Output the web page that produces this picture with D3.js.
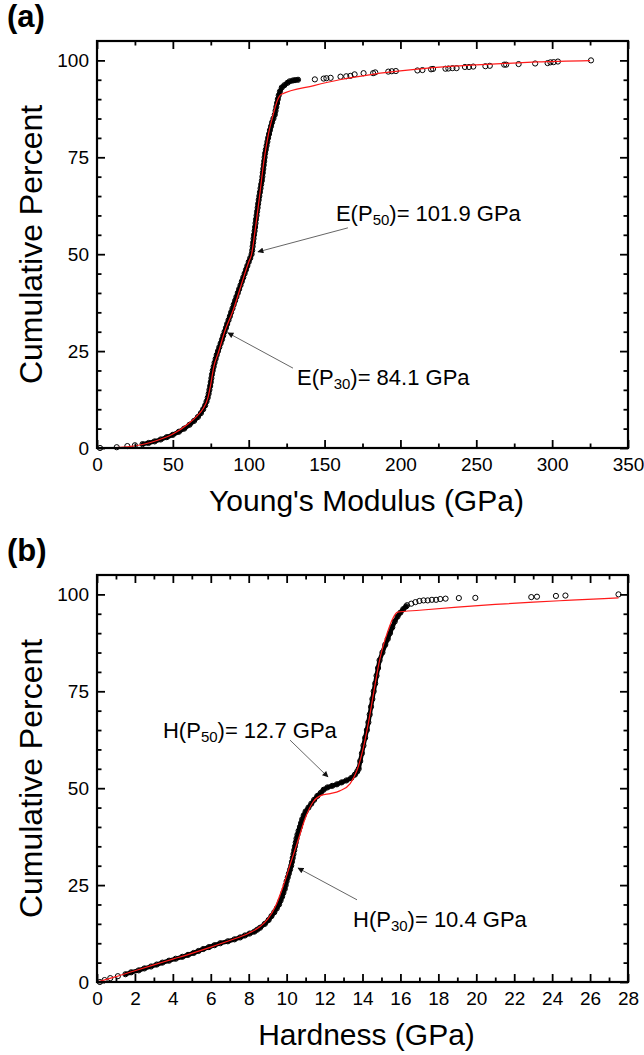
<!DOCTYPE html>
<html><head><meta charset="utf-8">
<script src="https://cdn.jsdelivr.net/npm/d3@7"></script>
<style>html,body{margin:0;padding:0;background:#fff;} svg{display:block;font-family:"Liberation Sans",Arial,sans-serif;}</style>
</head><body><svg id="chart" width="644" height="1055"></svg>
<script>
// ---------- Panel (a): Young's modulus ----------
const modulusLowX   = [2, 13, 20, 25];
const modulusLowPct = [0, 0.2, 0.5, 0.7];
const modulusCoreX = [30, 34, 38, 42, 46, 50, 54, 57.5, 61, 64, 66.5, 68.5, 70,
  71.3, 72.2, 73, 73.6, 74.1, 74.6, 75, 75.4, 75.8, 76.3, 76.9, 77.5, 78.2, 78.9,
  79.75, 80.6, 81.5, 82.4, 83.2, 84.1, 85.0, 85.8, 86.7, 87.6, 88.4, 89.3, 90.1, 91.0,
  91.9, 92.8, 93.7, 94.6, 95.5, 96.4, 97.3, 98.2, 99.1, 100.0, 101.0, 101.9,
  102.3, 102.6, 102.9, 103.2, 103.5, 103.9, 104.2, 104.5, 104.8, 105.2, 105.5, 105.9,
  106.2, 106.6, 107, 107.4, 107.8, 108.2, 108.7, 109, 109.3, 109.6, 109.9, 110.2,
  110.5, 110.8, 111.3, 111.8, 112.3, 112.8, 113.4, 114, 114.7, 115.4, 116.3, 117.2,
  117.7, 118.2, 118.7, 119.2, 119.8, 120.6, 121.8, 123.5, 125.5, 127, 129, 130.5, 132.5];
const modulusCorePct = [1, 1.3, 1.7, 2.2, 2.8, 3.4, 4.2, 5, 6, 7, 8, 9, 10,
  11, 12, 13, 14, 15, 16, 17, 18, 19, 20, 21, 22, 23, 24,
  25, 26, 27, 28, 29, 30, 31, 32, 33, 34, 35, 36, 37, 38,
  39, 40, 41, 42, 43, 44, 45, 46, 47, 48, 49, 50,
  51, 52, 53, 54, 55, 56, 57, 58, 59, 60, 61, 62,
  63, 64, 65, 66, 67, 68, 69, 70, 71, 72, 73, 74,
  75, 76, 77, 78, 79, 80, 81, 82, 83, 84, 85, 86,
  87, 88, 89, 90, 91, 92, 93, 93.6, 94.2, 94.6, 94.8, 94.9, 95.0];
const modulusTailX = [143.6, 149.4, 151.2, 154, 160.5, 164.3, 167, 169.8, 175.7, 182, 183.4,
  192, 194.3, 197, 211.2, 214.5, 220.2, 221.5, 229.7, 231.6, 234.3, 237, 242.5, 245.2, 248,
  256, 258.9, 268.4, 269.7, 277.9, 288.8, 297, 298.9, 301, 303.8, 325.6];
const modulusTailPct = [95.1, 95.3, 95.4, 95.5, 95.8, 95.9, 96, 96.4, 96.7, 96.7, 96.9,
  97.1, 97.2, 97.25, 97.4, 97.5, 97.7, 97.8, 97.85, 97.9, 98, 98, 98.3, 98.3, 98.4,
  98.5, 98.6, 98.9, 98.9, 99.05, 99.2, 99.3, 99.5, 99.55, 99.7, 100];
const modulusFitX   = [0, 10, 20, 30, 40, 50, 60, 66, 70, 73, 75, 77, 80, 84.1, 90, 95, 100, 101.9,
  104, 107, 110, 113, 116, 119, 121.3, 143, 160, 181.5, 208, 235, 263, 290, 325];
const modulusFitPct = [0, 0.05, 0.3, 0.9, 2.0, 3.6, 6.2, 8.3, 10.2, 12.8, 16.5, 21, 24.6, 30, 35.8, 42, 48, 50,
  55.5, 64.5, 74, 81, 85.8, 89.8, 91.2, 93.5, 95.0, 96.4, 97.6, 98.5, 99.1, 99.6, 99.95];
const modulusTicks = [0, 50, 100, 150, 200, 250, 300, 350];
const modulusMinorTicks = [25, 75, 125, 175, 225, 275, 325];

// ---------- Panel (b): Hardness ----------
const hardnessLowX   = [0.15, 0.4, 0.7, 1.1];
const hardnessLowPct = [0, 0.5, 1, 1.5];
const hardnessCoreX = [1.5, 1.8, 2.2, 2.5, 2.85, 3.15, 3.45, 3.8, 4.15, 4.5, 4.8, 5.1, 5.35, 5.6,
  5.9, 6.2, 6.5, 6.9, 7.25, 7.55, 7.8, 8.05, 8.3, 8.45, 8.6, 8.85, 9.05, 9.2, 9.35, 9.48, 9.6,
  9.68, 9.76, 9.83, 9.9, 9.95, 10.0, 10.06, 10.12, 10.18, 10.24, 10.28, 10.32, 10.36, 10.4,
  10.44, 10.48, 10.52, 10.57, 10.63, 10.7, 10.76, 10.82, 10.9, 11.0, 11.15, 11.3, 11.45, 11.62,
  11.8, 11.95, 12.15, 12.4, 12.65, 12.9, 13.15, 13.4, 13.6, 13.72, 13.8, 13.88, 13.97, 14.05,
  14.14, 14.23, 14.31, 14.38, 14.45, 14.52, 14.59, 14.67, 14.74, 14.82, 14.9, 15.05, 15.2,
  15.33, 15.45, 15.57, 15.7, 15.85, 16.0, 16.15, 16.3];
const hardnessCorePct = [2, 2.5, 3, 3.5, 4, 4.5, 5, 5.5, 6, 6.5, 7, 7.5, 8, 8.5,
  9, 9.5, 10, 10.5, 11, 11.5, 12, 12.5, 13, 13.5, 14, 15, 16, 17, 18, 19, 20,
  21, 22, 23, 24, 25, 26, 27, 28, 29, 30, 31, 32, 33, 34,
  35, 36, 37, 38, 39, 40, 41, 42, 43, 44, 45, 46, 47, 48,
  48.8, 49.6, 50.2, 50.6, 51, 51.5, 52, 52.6, 53.5, 54.3, 55, 57, 59, 61,
  63, 65, 67, 69, 71, 73, 75, 77, 79, 81, 83, 85, 87,
  88.5, 90, 91.5, 93, 94.3, 95.3, 96.2, 96.9];
const hardnessTailX = [16.35, 16.57, 16.79, 17.0, 17.22, 17.44, 17.66, 17.88, 18.1, 18.38,
  19.08, 19.95, 22.9, 23.2, 24.2, 24.7, 27.5];
const hardnessTailPct = [97.2, 97.6, 98.0, 98.3, 98.45, 98.45, 98.6, 98.6, 98.8, 98.9,
  99.05, 99.1, 99.3, 99.4, 99.6, 99.7, 100];
const hardnessFitX   = [0, 1, 2, 3, 4, 5, 6, 7, 8, 8.6, 9.0, 9.4, 9.8, 10.2, 10.6, 11.0, 11.4, 11.85,
  12.3, 12.8, 13.35, 13.7, 14.0, 14.3, 14.6, 14.9, 15.3, 15.6, 15.85, 17, 19, 21, 23, 25, 27.5];
const hardnessFitPct = [0, 1.4, 2.9, 4.4, 5.9, 7.4, 9.0, 10.7, 12.6, 14.3, 16.2, 19.4, 24.5, 30.5, 36.5, 42.5, 46.5, 48.2,
  48.6, 49.3, 51.2, 54.5, 59.5, 66.5, 75, 83, 90, 93.8, 95.4, 95.9, 96.7, 97.4, 98.0, 98.5, 99.1];
const hardnessTicks = [0, 2, 4, 6, 8, 10, 12, 14, 16, 18, 20, 22, 24, 26, 28];
const hardnessMinorTicks = [1, 3, 5, 7, 9, 11, 13, 15, 17, 19, 21, 23, 25, 27];

const pctTicks = [0, 25, 50, 75, 100];
const pctMinorTicks = [5, 10, 15, 20, 30, 35, 40, 45, 55, 60, 65, 70, 80, 85, 90, 95];

const svg = d3.select("#chart");
svg.append("rect").attr("width", 644).attr("height", 1055).attr("fill", "#fff");

const defs = svg.append("defs");
defs.append("marker").attr("id", "arrow").attr("viewBox", "0 0 10 10")
  .attr("refX", 9).attr("refY", 5).attr("markerWidth", 7).attr("markerHeight", 6)
  .attr("markerUnits", "userSpaceOnUse").attr("orient", "auto")
  .append("path").attr("d", "M0,0 L10,5 L0,10 Z").attr("fill", "#111");

function drawPanel(cfg) {
  const left = 97, right = 628, height = 407;
  const x = d3.scaleLinear().domain(cfg.xDomain).range([left, right]);
  const y = d3.scaleLinear().domain([0, 105]).range([cfg.bottom, cfg.bottom - height]);
  const g = svg.append("g");

  const line = d3.line().x(d => x(d[0])).y(d => y(d[1]));
  const core = d3.zip(cfg.coreX, cfg.corePct);
  g.append("path").datum(core).attr("d", line)
    .attr("fill", "none").attr("stroke", "#000").attr("stroke-width", 4.4)
    .attr("stroke-linejoin", "round").attr("stroke-linecap", "round");

  const pts = d3.zip(cfg.lowX, cfg.lowPct).concat(core, d3.zip(cfg.tailX, cfg.tailPct));
  g.selectAll("circle.pt").data(pts).join("circle").attr("class", "pt")
    .attr("cx", d => x(d[0])).attr("cy", d => y(d[1])).attr("r", 2.6)
    .attr("fill", "none").attr("stroke", "#000").attr("stroke-width", 1);

  const fitLine = d3.line().curve(d3.curveMonotoneX).x(d => x(d[0])).y(d => y(d[1]));
  g.append("path").datum(d3.zip(cfg.fitX, cfg.fitPct)).attr("d", fitLine)
    .attr("fill", "none").attr("stroke", "#ff1a1a").attr("stroke-width", 1.2);

  // axes
  const styleAxis = sel => {
    sel.select(".domain").remove();
    sel.selectAll(".tick line").attr("stroke", "#000").attr("stroke-width", 1.8);
    sel.selectAll(".tick text").attr("fill", "#000").style("font-size", "19px")
      .style("font-family", '"Liberation Sans", Arial, sans-serif');
  };
  const add = (axis, tx, ty) => g.append("g").attr("transform", `translate(${tx},${ty})`).call(axis).call(styleAxis);
  const top = cfg.bottom - height;
  add(d3.axisBottom(x).tickValues(cfg.xTicks).tickSize(-8).tickPadding(10).tickFormat(d3.format("d")), 0, cfg.bottom);
  add(d3.axisBottom(x).tickValues(cfg.xMinor).tickSize(-4.5).tickFormat(""), 0, cfg.bottom);
  add(d3.axisTop(x).tickValues(cfg.xTicks).tickSize(-8).tickFormat(""), 0, top);
  add(d3.axisTop(x).tickValues(cfg.xMinor).tickSize(-4.5).tickFormat(""), 0, top);
  add(d3.axisLeft(y).tickValues(pctTicks).tickSize(-8).tickPadding(8).tickFormat(d3.format("d")), left, 0);
  add(d3.axisLeft(y).tickValues(pctMinorTicks).tickSize(-4.5).tickFormat(""), left, 0);
  add(d3.axisRight(y).tickValues(pctTicks).tickSize(-8).tickFormat(""), right, 0);
  add(d3.axisRight(y).tickValues(pctMinorTicks).tickSize(-4.5).tickFormat(""), right, 0);

  g.append("rect").attr("x", left).attr("y", top).attr("width", right - left).attr("height", height)
    .attr("fill", "none").attr("stroke", "#000").attr("stroke-width", 2.2);

  // titles
  g.append("text").attr("x", (left + right) / 2 + 4).attr("y", cfg.bottom + 63)
    .attr("text-anchor", "middle").style("font-size", "30px").text(cfg.xTitle);
  g.append("text").attr("transform", `translate(42,${top + height / 2}) rotate(-90)`)
    .attr("text-anchor", "middle").style("font-size", "32px").text("Cumulative Percent");
  g.append("text").attr("x", 7).attr("y", top - 14).style("font-size", "31px")
    .style("font-weight", "bold").text(cfg.panelLabel);

  // annotations
  cfg.notes.forEach(n => {
    g.append("line").attr("x1", x(n.tail[0])).attr("y1", y(n.tail[1]))
      .attr("x2", x(n.tip[0])).attr("y2", y(n.tip[1]))
      .attr("stroke", "#666").attr("stroke-width", 1).attr("marker-end", "url(#arrow)");
    const t = g.append("text").attr("x", x(n.text[0])).attr("y", y(n.text[1])).style("font-size", "22px");
    t.append("tspan").text(n.sym + "(P");
    t.append("tspan").attr("dy", 4.5).style("font-size", "15px").text(n.sub);
    t.append("tspan").attr("dy", -4.5).text(")= " + n.value + " GPa");
  });
}

drawPanel({
  bottom: 448, xDomain: [0, 350], xTicks: modulusTicks, xMinor: modulusMinorTicks,
  lowX: modulusLowX, lowPct: modulusLowPct, coreX: modulusCoreX, corePct: modulusCorePct,
  tailX: modulusTailX, tailPct: modulusTailPct, fitX: modulusFitX, fitPct: modulusFitPct,
  xTitle: "Young's Modulus (GPa)", panelLabel: "(a)",
  notes: [
    {sym: "E", sub: "50", value: "101.9", tip: [106.1, 50.6], tail: [165.4, 56.8], text: [157.5, 58.6]},
    {sym: "E", sub: "30", value: "84.1", tip: [86.3, 29.7], tail: [129.2, 20.6], text: [131.8, 16.3]}
  ]
});
drawPanel({
  bottom: 982, xDomain: [0, 28], xTicks: hardnessTicks, xMinor: hardnessMinorTicks,
  lowX: hardnessLowX, lowPct: hardnessLowPct, coreX: hardnessCoreX, corePct: hardnessCorePct,
  tailX: hardnessTailX, tailPct: hardnessTailPct, fitX: hardnessFitX, fitPct: hardnessFitPct,
  xTitle: "Hardness (GPa)", panelLabel: "(b)",
  notes: [
    {sym: "H", sub: "50", value: "12.7", tip: [12.18, 52.9], tail: [10.18, 62.4], text: [3.48, 62.95]},
    {sym: "H", sub: "30", value: "10.4", tip: [10.6, 29.4], tail: [13.71, 21.2], text: [13.5, 14.2]}
  ]
});
</script></body></html>
